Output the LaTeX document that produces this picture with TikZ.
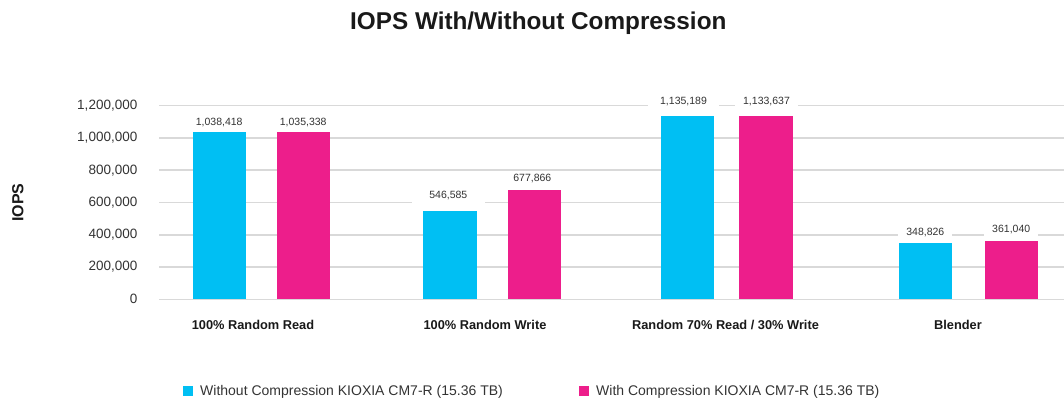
\documentclass[tikz,border=0pt]{standalone}
\usepackage{fontspec}
\setmainfont{Liberation Sans}
\definecolor{barcyan}{RGB}{0,191,243}
\definecolor{barmag}{RGB}{237,30,139}
\definecolor{gridgray}{RGB}{217,217,217}
\definecolor{txtgray}{RGB}{51,51,51}
\newcommand{\fs}[1]{\fontsize{#1}{#1}\selectfont}
\tikzset{
  gridline/.style={draw=gridgray, line width=1.5pt},
  cyanbar/.style={fill=barcyan},
  magbar/.style={fill=barmag},
  ticklab/.style={anchor=east, font=\fs{13.5}, text=txtgray, inner sep=0pt},
  vallab/.style={font=\fs{10.5}, text=txtgray, fill=white, inner xsep=0pt, inner ysep=3pt, align=center},
  catlab/.style={font=\fs{12.8}\bfseries, text=black!90, inner sep=0pt},
  leglab/.style={anchor=base west, font=\fs{14}, text=txtgray, inner sep=0pt},
}
\begin{document}
\begin{tikzpicture}[x=1pt,y=-1pt]
\useasboundingbox (0,0) rectangle (1064,399);
% title
\node[anchor=base, font=\fs{24.3}\bfseries, text=black!90, inner sep=0pt] (title) at (538.3,29.3) {IOPS With/Without Compression};
% y axis title
\node[rotate=90, font=\fs{16}\bfseries, text=black!90, inner sep=0pt] (ytitle) at (17.8,202.5) {IOPS};
% gridlines and tick labels
\foreach \v/\lab [count=\i] in {0/0,200000/{200,000},400000/{400,000},600000/{600,000},800000/{800,000},1000000/{1,000,000},1200000/{1,200,000}}{
  \pgfmathsetmacro{\yy}{299.3-(\i-1)*32.27}
  \coordinate (gl\i) at (159,\yy);
  \coordinate (gr\i) at (1064,\yy);
  \draw[gridline] (gl\i) -- (gr\i);
  \node[ticklab] (tick\i) at (137.5,\yy) {\lab};
}
% value labels (white boxes interrupt gridlines)
\node[vallab, minimum width=54pt] (v1a) at (219.2,122.5) {1,038,418};
\node[vallab, minimum width=54pt] (v1b) at (303.2,122.5) {1,035,338};
\node[vallab, minimum width=73pt] (v2a) at (448.3,196) {546,585};
\node[vallab, minimum width=73pt] (v2b) at (532.3,178.3) {677,866};
\node[vallab, minimum width=71pt] (v3a) at (683.5,101.7) {1,135,189};
\node[vallab, minimum width=63pt] (v3b) at (766.5,101.7) {1,133,637};
\node[vallab, minimum width=54pt] (v4a) at (925.3,232.7) {348,826};
\node[vallab, minimum width=54pt] (v4b) at (1011.2,230) {361,040};
% bars
\fill[cyanbar] (192.7,131.75) rectangle (245.7,299.3);
\fill[magbar]  (276.7,132.25) rectangle (329.7,299.3);
\fill[cyanbar] (423.3,211.1) rectangle (476.7,299.3);
\fill[magbar]  (507.7,189.9) rectangle (560.7,299.3);
\fill[cyanbar] (661,116.1) rectangle (714,299.3);
\fill[magbar]  (739.3,116.4) rectangle (792.7,299.3);
\fill[cyanbar] (899,243.0) rectangle (951.7,299.3);
\fill[magbar]  (985.3,241.0) rectangle (1038.3,299.3);
% category labels
\node[catlab] (c1) at (253,325) {100\% Random Read};
\node[catlab] (c2) at (485,325) {100\% Random Write};
\node[catlab] (c3) at (725.5,325) {Random 70\% Read / 30\% Write};
\node[catlab] (c4) at (958,325) {Blender};
% legend
\fill[cyanbar] (183.3,386) rectangle (193,396);
\node[leglab] (l1) at (200,395.5) {Without Compression KIOXIA CM7-R (15.36 TB)};
\fill[magbar] (579.3,386) rectangle (589.3,396);
\node[leglab] (l2) at (596,395.5) {With Compression KIOXIA CM7-R (15.36 TB)};
\end{tikzpicture}
\end{document}
